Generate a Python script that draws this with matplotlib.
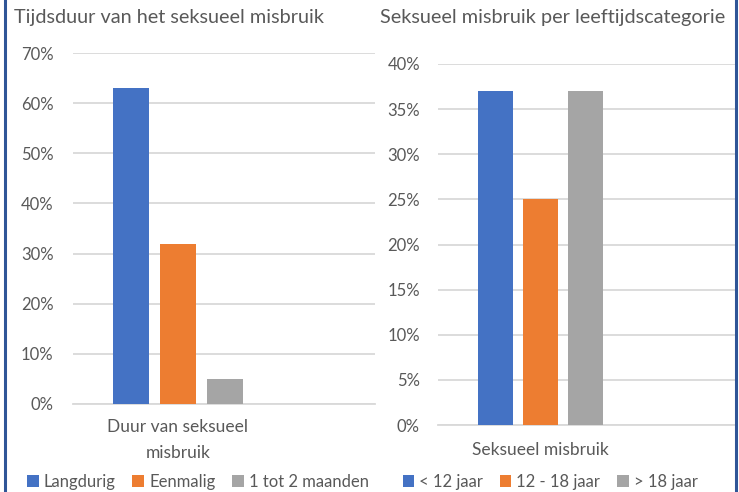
import matplotlib
matplotlib.use("Agg")
import matplotlib.pyplot as plt
from matplotlib.lines import Line2D
from matplotlib.patches import Patch
import numpy as np

plt.rcParams['font.family'] = ['Lato', 'DejaVu Sans']

# Left chart data
left_title = "Tijdsduur van het seksueel misbruik"
left_category = "Duur van seksueel\nmisbruik"
left_series = ["Langdurig", "Eenmalig", "1 tot 2 maanden"]
left_values = [63, 32, 5]
left_yticks = [0, 10, 20, 30, 40, 50, 60, 70]

# Right chart data
right_title = "Seksueel misbruik per leeftijdscategorie"
right_category = "Seksueel misbruik"
right_series = ["< 12 jaar", "12 - 18 jaar", "> 18 jaar"]
right_values = [37, 25, 37]
right_yticks = [0, 5, 10, 15, 20, 25, 30, 35, 40]

colors = ["#4472C4", "#ED7D31", "#A5A5A5"]
text_color = "#595959"
grid_color = "#D9D9D9"

W, H = 739, 492
fig = plt.figure(figsize=(W / 100, H / 100), dpi=100)

def px_axes(x0, x1, y_top, y_bottom):
    return fig.add_axes([x0 / W, (H - y_bottom) / H, (x1 - x0) / W, (y_bottom - y_top) / H])

def draw(ax, values, series, category, yticks, bar_w, step, xlim, pad, xpad):
    offsets = (np.arange(len(values)) - (len(values) - 1) / 2) * step
    for off, v, c, s in zip(offsets, values, colors, series):
        ax.bar(off, v, width=bar_w, color=c, label=s, zorder=3)
    ax.set_xlim(*xlim)
    ax.set_ylim(yticks[0], yticks[-1])
    ax.set_yticks(yticks)
    ax.set_yticklabels([f"{t}%" for t in yticks], color=text_color, fontsize=12)
    ax.set_xticks([0])
    ax.set_xticklabels([category], color=text_color, fontsize=12.5, linespacing=1.75)
    ax.tick_params(axis='both', length=0)
    ax.tick_params(axis='y', pad=pad)
    ax.tick_params(axis='x', pad=xpad)
    ax.grid(axis='y', color=grid_color, linewidth=1.3, zorder=0)
    for sp in ['top', 'right', 'left']:
        ax.spines[sp].set_visible(False)
    ax.spines['bottom'].set_color(grid_color)
    ax.spines['bottom'].set_linewidth(1.3)

axL = px_axes(73, 375, 53, 404)
draw(axL, left_values, left_series, left_category, left_yticks, 0.2, 0.26, (-0.583, 1.094), 14, 11)
axR = px_axes(438, 735, 64, 425)
draw(axR, right_values, right_series, right_category, right_yticks, 0.2, 0.257, (-0.583, 1.114), 13, 12)

fig.text(14 / W, 1 - 18 / H, left_title, color=text_color, fontsize=14.3, va='center', ha='left')
fig.text(380 / W, 1 - 18 / H, right_title, color=text_color, fontsize=14.3, va='center', ha='left')

def legend(cx, series):
    handles = [Patch(facecolor=c, edgecolor='none') for c in colors]
    fig.legend(handles, series, loc='center', bbox_to_anchor=(cx / W, 1 - 482 / H), ncol=3,
               frameon=False, fontsize=12, handlelength=0.7, handleheight=0.7,
               handletextpad=0.3, columnspacing=1.0, labelcolor=text_color,
               borderaxespad=0, borderpad=0)

legend(198, left_series)
legend(550, right_series)

border = "#2F5597"
fig.add_artist(Line2D([5 / W, 5 / W], [0, 1], color=border, linewidth=2.2, transform=fig.transFigure))
fig.add_artist(Line2D([736 / W, 736 / W], [0, 1], color=border, linewidth=2.2, transform=fig.transFigure))

fig.savefig("out.png", dpi=100, facecolor='white')
